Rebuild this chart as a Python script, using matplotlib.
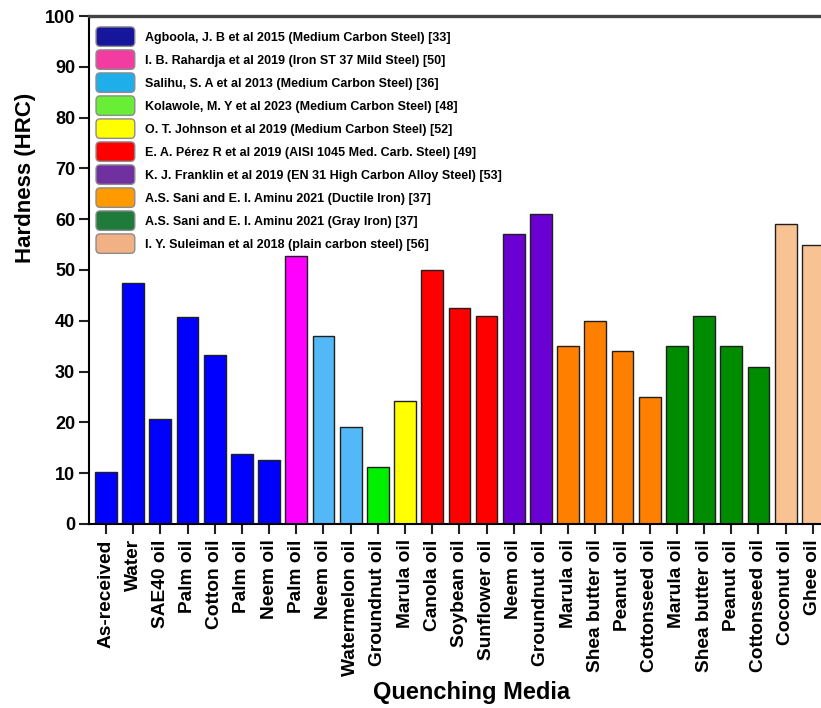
import matplotlib
matplotlib.use("Agg")
import matplotlib.pyplot as plt
from matplotlib.patches import Patch, FancyBboxPatch
from matplotlib.legend_handler import HandlerPatch

plt.rcParams["font.family"] = ["Liberation Sans", "DejaVu Sans"]
plt.rcParams["font.weight"] = "bold"

# Data
media = [
    "As-received", "Water", "SAE40 oil", "Palm oil", "Cotton oil", "Palm oil", "Neem oil",
    "Palm oil",
    "Neem oil", "Watermelon oil",
    "Groundnut oil",
    "Marula oil",
    "Canola oil", "Soybean oil", "Sunflower oil",
    "Neem oil", "Groundnut oil",
    "Marula oil", "Shea butter oil", "Peanut oil", "Cottonseed oil",
    "Marula oil", "Shea butter oil", "Peanut oil", "Cottonseed oil",
    "Coconut oil", "Ghee oil",
]
hardness = [
    10.2, 47.4, 20.7, 40.8, 33.2, 13.8, 12.5,
    52.8,
    37.0, 19.0,
    11.3,
    24.2,
    50.0, 42.5, 41.0,
    57.0, 61.0,
    35.0, 40.0, 34.0, 25.0,
    35.0, 41.0, 35.0, 31.0,
    59.0, 55.0,
]
study = [0] * 7 + [1] + [2] * 2 + [3] + [4] + [5] * 3 + [6] * 2 + [7] * 4 + [8] * 4 + [9] * 2

studies = [
    "Agboola, J. B et al 2015 (Medium Carbon Steel) [33]",
    "I. B. Rahardja et al 2019 (Iron ST 37 Mild Steel) [50]",
    "Salihu, S. A et al 2013 (Medium Carbon Steel) [36]",
    "Kolawole, M. Y et al 2023 (Medium Carbon Steel) [48]",
    "O. T. Johnson et al 2019 (Medium Carbon Steel) [52]",
    "E. A. Pérez R et al 2019 (AISI 1045 Med. Carb. Steel) [49]",
    "K. J. Franklin et al 2019 (EN 31 High Carbon Alloy Steel) [53]",
    "A.S. Sani and E. I. Aminu 2021 (Ductile Iron) [37]",
    "A.S. Sani and E. I. Aminu 2021 (Gray Iron) [37]",
    "I. Y. Suleiman et al 2018 (plain carbon steel) [56]",
]
bar_colors = ["#0000ff", "#ff00ff", "#52b8f8", "#00f000", "#ffff00",
              "#ff0000", "#6a00d2", "#ff8000", "#008c00", "#f8c292"]
legend_colors = ["#16169c", "#f23ca2", "#1eaeea", "#68ee34", "#ffff00",
                 "#ff0000", "#7030a0", "#ff9a00", "#1e7b3c", "#f2b184"]


class RoundBox(HandlerPatch):
    # rounded swatch, taller than the row box
    def create_artists(self, legend, orig_handle, xdescent, ydescent,
                       width, height, fontsize, trans):
        h = 14.0
        y0 = -ydescent + height / 2 - h / 2
        p = FancyBboxPatch((-xdescent, y0), width, h,
                           boxstyle="round,pad=0,rounding_size=3",
                           facecolor=orig_handle.get_facecolor(),
                           edgecolor="#8c8c8c", linewidth=1.0, transform=trans)
        return [p]


fig = plt.figure(figsize=(8.21, 7.08), dpi=100)
ax = fig.add_axes([0.1084, 0.2599, 0.8916, 0.7175])

x = list(range(len(media)))
ax.bar(x, hardness, width=0.8, color=[bar_colors[s] for s in study],
       edgecolor="#202020", linewidth=1.0)

ax.set_xlim(-0.625, 26.3)
ax.set_ylim(0, 100)
ax.set_yticks(range(0, 101, 10))
ax.set_xticks(x)
ax.set_xticklabels(media, rotation=90, fontsize=13.8, fontweight="bold")
for lab in ax.get_yticklabels():
    lab.set_fontsize(13)
    lab.set_fontweight("bold")
ax.tick_params(axis="both", direction="out", length=7, width=1.5, color="#202020")
ax.tick_params(axis="x", pad=4)
ax.tick_params(axis="y", pad=3)

ax.spines["right"].set_visible(False)
ax.spines["top"].set_linewidth(2.4)
ax.spines["top"].set_color("#444444")
ax.spines["left"].set_linewidth(1.5)
ax.spines["bottom"].set_linewidth(1.5)

ax.set_ylabel("Hardness (HRC)", fontsize=16, fontweight="bold", ha="center", va="center")
ax.yaxis.set_label_coords(-0.087, 0.681)
ax.set_xlabel("Quenching Media", fontsize=17, fontweight="bold", va="center")
ax.xaxis.set_label_coords(0.522, -0.331)

handles = [Patch(facecolor=c) for c in legend_colors]
ax.legend(handles, studies, loc="upper left", bbox_to_anchor=(0.0096, 0.972),
          frameon=False, prop={"size": 9, "weight": "bold"},
          handler_map={Patch: RoundBox()},
          handlelength=3.1, handleheight=1.2, labelspacing=0.75,
          handletextpad=0.8, borderpad=0, borderaxespad=0)

fig.savefig("out.png", dpi=100)
